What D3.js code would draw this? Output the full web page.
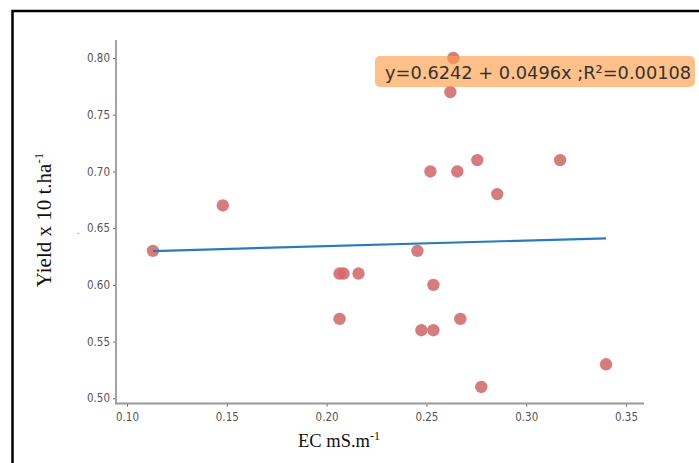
<!DOCTYPE html>
<html><head><meta charset="utf-8">
<script src="https://cdn.jsdelivr.net/npm/d3@7"></script>
<style>body{margin:0;background:#fff}svg{display:block}</style>
</head><body>
<svg id="c" width="699" height="463"></svg>
<script>
const ecValues = [0.2635,0.262,0.252,0.2655,0.2755,0.317,0.2855,0.148,0.113,0.2455,0.2065,0.2085,0.216,0.2535,0.2065,0.267,0.2475,0.2535,0.2775,0.34];
const yieldValues = [0.80,0.77,0.70,0.70,0.71,0.71,0.68,0.67,0.63,0.63,0.61,0.61,0.61,0.60,0.57,0.57,0.56,0.56,0.51,0.53];
const xTicks = [0.10,0.15,0.20,0.25,0.30,0.35];
const yTicks = [0.50,0.55,0.60,0.65,0.70,0.75,0.80];
const intercept = 0.6242, slope = 0.0496;
const eqText = "y=0.6242 + 0.0496x ;R\u00B2=0.00108";

const svg = d3.select("#c");
// outer frame
svg.append("rect").attr("x",12.5).attr("y",11).attr("width",720).attr("height",480)
  .attr("fill","none").attr("stroke","#000").attr("stroke-width",2.5);

const x = d3.scaleLinear().domain([0.10,0.35]).range([127,626]);
const y = d3.scaleLinear().domain([0.50,0.80]).range([398.3,58]);

const axCol = "#999";
// y axis
const yAxis = svg.append("g").attr("transform","translate(116,0)")
  .call(d3.axisLeft(y).tickValues(yTicks).tickFormat(d3.format(".2f")).tickSize(3).tickSizeOuter(0));
yAxis.select(".domain").remove();
svg.append("line").attr("x1",116).attr("x2",116).attr("y1",40).attr("y2",404).attr("stroke",axCol).attr("stroke-width",1.8);
// x axis
const xAxis = svg.append("g").attr("transform","translate(0,403.5)")
  .call(d3.axisBottom(x).tickValues(xTicks).tickFormat(d3.format(".2f")).tickSize(3).tickSizeOuter(0));
xAxis.select(".domain").remove();
svg.append("line").attr("x1",115).attr("x2",644).attr("y1",403.5).attr("y2",403.5).attr("stroke",axCol).attr("stroke-width",1.8);
[yAxis,xAxis].forEach(g=>{
  g.selectAll(".tick line").attr("stroke","#666").attr("stroke-width",1);
  g.selectAll(".tick text").attr("fill","#555").style("font-family","'DejaVu Sans Condensed','DejaVu Sans',sans-serif")
   .style("font-size","11.5px").style("font-stretch","condensed");
});
yAxis.selectAll(".tick text").attr("x",-6);
xAxis.selectAll(".tick text").attr("y",9);

// points
svg.append("g").selectAll("circle").data(ecValues.map((d,i)=>[d,yieldValues[i]])).join("circle")
  .attr("cx",d=>x(d[0])).attr("cy",d=>y(d[1])).attr("r",6.2)
  .attr("fill","#d26a6c").attr("fill-opacity",0.88);

// regression line
const xmin = d3.min(ecValues), xmax = d3.max(ecValues);
svg.append("line").attr("x1",x(xmin)).attr("y1",y(intercept+slope*xmin))
  .attr("x2",x(xmax)).attr("y2",y(intercept+slope*xmax))
  .attr("stroke","#2a7bbd").attr("stroke-width",2.2);

// equation box
svg.append("rect").attr("x",375).attr("y",56).attr("width",320).attr("height",31).attr("rx",5)
  .attr("fill","#ff9f4a").attr("fill-opacity",0.65);
svg.append("text").attr("x",385).attr("y",79).text(eqText)
  .attr("fill","#333").style("font-family","'DejaVu Sans',sans-serif").style("font-size","17.8px");

// axis labels
const yl = svg.append("text").attr("transform","translate(51,220) rotate(-90)").attr("text-anchor","middle")
  .style("font-family","'Liberation Serif','Times New Roman',serif").style("font-size","21px").attr("fill","#111");
yl.append("tspan").text("Yield x 10 t.ha");
yl.append("tspan").attr("dy",-8).style("font-size","13px").text("-1");
svg.append("text").attr("x",77).attr("y",234).text(".").attr("fill","#777").style("font-size","10px");

const xl = svg.append("text").attr("x",339).attr("y",447).attr("text-anchor","middle")
  .style("font-family","'Liberation Serif','Times New Roman',serif").style("font-size","18.5px").attr("fill","#111");
xl.append("tspan").text("EC mS.m");
xl.append("tspan").attr("dy",-7).style("font-size","12px").text("-1");
</script>
</body></html>
